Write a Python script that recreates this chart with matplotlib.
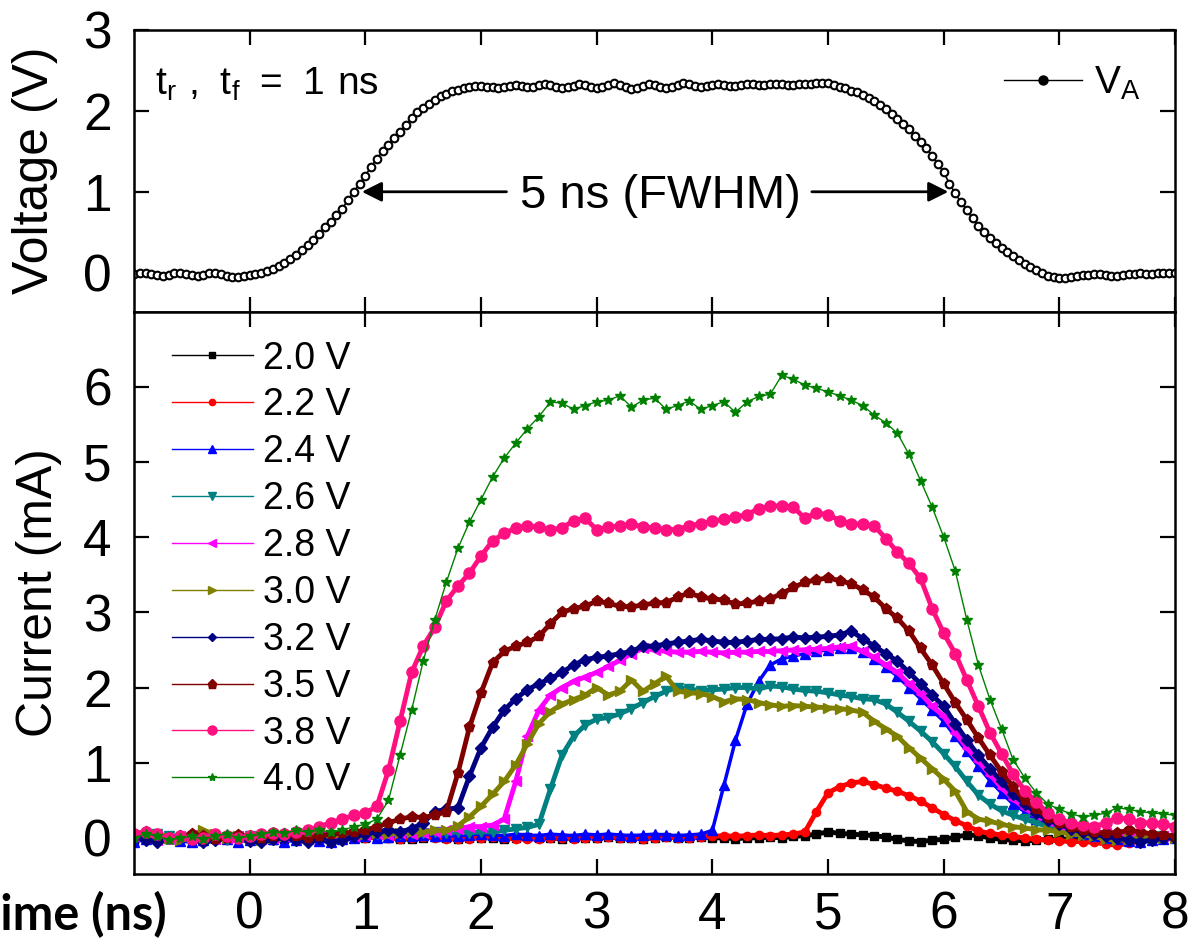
import numpy as np
import matplotlib
matplotlib.use("Agg")
import matplotlib.pyplot as plt
from matplotlib.lines import Line2D

plt.rcParams['font.family'] = ['Liberation Sans', 'DejaVu Sans']
plt.rcParams['mathtext.fontset'] = 'custom'
plt.rcParams['mathtext.rm'] = 'Liberation Sans'

# ---------------------------------------------------------
# data
# ---------------------------------------------------------
# top panel: applied pulse V_A, sampled every 0.05 ns from -1 to 8 ns
t_volt = np.round(np.arange(-1.0, 8.001, 0.05), 2)
v_a = [
    -0.02, -0.01, -0.01, -0.02, -0.03, -0.04, -0.03, -0.01, -0.01, -0.02,
    -0.03, -0.04, -0.03, -0.01, -0.01, -0.02, -0.04, -0.05, -0.05, -0.04,
    -0.03, -0.02, 0.0, 0.02, 0.05, 0.08, 0.12, 0.17, 0.22, 0.28,
    0.34, 0.41, 0.48, 0.56, 0.63, 0.71, 0.79, 0.9, 1.0, 1.1,
    1.2, 1.31, 1.41, 1.5, 1.58, 1.66, 1.74, 1.83, 1.91, 1.98,
    2.04, 2.09, 2.14, 2.18, 2.21, 2.24, 2.26, 2.28, 2.3, 2.31,
    2.31, 2.3, 2.29, 2.28, 2.29, 2.31, 2.32, 2.31, 2.29, 2.3,
    2.32, 2.33, 2.32, 2.3, 2.28, 2.29, 2.31, 2.33, 2.32, 2.3,
    2.28, 2.29, 2.32, 2.34, 2.32, 2.29, 2.27, 2.28, 2.31, 2.33,
    2.32, 2.3, 2.28, 2.29, 2.32, 2.34, 2.33, 2.31, 2.3, 2.31,
    2.32, 2.33, 2.32, 2.31, 2.31, 2.32, 2.33, 2.33, 2.32, 2.32,
    2.33, 2.33, 2.33, 2.32, 2.32, 2.33, 2.33, 2.33, 2.34, 2.34,
    2.34, 2.32, 2.3, 2.28, 2.25, 2.23, 2.2, 2.16, 2.12, 2.07,
    2.02, 1.96, 1.9, 1.84, 1.77, 1.69, 1.62, 1.54, 1.44, 1.34,
    1.24, 1.1, 0.98, 0.87, 0.77, 0.67, 0.58, 0.5, 0.43, 0.37,
    0.31, 0.26, 0.21, 0.16, 0.11, 0.07, 0.03, -0.01, -0.04, -0.05,
    -0.06, -0.06, -0.05, -0.04, -0.03, -0.03, -0.02, -0.02, -0.03, -0.04,
    -0.04, -0.03, -0.02, -0.02, -0.01, -0.02, -0.02, -0.01, 0.0, 0.0,
    0.0,
]

# bottom panel: current for each amplitude, sampled every 0.1 ns
t_cur = np.round(np.arange(-1.0, 8.001, 0.1), 2)
amp_labels = ["2.0 V", "2.2 V", "2.4 V", "2.6 V", "2.8 V",
              "3.0 V", "3.2 V", "3.5 V", "3.8 V", "4.0 V"]

i_20 = [
    -0.03, -0.02, 0.0, 0.02, 0.0, -0.03, -0.04, -0.02, 0.0, 0.01,
    0.0, -0.02, -0.03, -0.01, 0.0, 0.01, 0.0, -0.02, -0.02, 0.0,
    0.0, 0.01, 0.0, -0.01, -0.02, 0.0, 0.01, 0.0, -0.01, 0.0,
    0.0, 0.0, -0.01, 0.0, 0.01, 0.0, 0.0, -0.01, 0.0, 0.0,
    0.0, 0.01, 0.0, 0.0, -0.01, 0.0, 0.01, 0.0, 0.0, 0.01,
    0.0, 0.0, -0.01, 0.0, 0.0, 0.01, 0.0, 0.02, 0.03, 0.05,
    0.08, 0.06, 0.05, 0.04, 0.03, 0.01, -0.02, -0.04, -0.05, -0.03,
    -0.02, 0.01, 0.04, 0.03, 0.0, -0.02, -0.03, -0.04, -0.03, -0.02,
    -0.02, -0.01, 0.0, 0.01, 0.0, -0.02, -0.03, -0.02, -0.01, 0.0,
    0.0,
]
i_22 = [
    0.02, 0.04, 0.01, -0.02, -0.01, 0.02, 0.0, -0.03, -0.01, 0.01,
    0.0, -0.01, 0.01, 0.02, 0.0, -0.01, 0.0, 0.02, 0.01, 0.0,
    0.0, 0.01, 0.0, -0.01, 0.0, 0.01, 0.0, -0.01, -0.02, -0.01,
    0.0, 0.01, 0.0, -0.01, -0.02, -0.01, 0.0, 0.0, -0.01, 0.0,
    0.0, 0.01, 0.0, 0.0, -0.01, 0.0, 0.01, 0.0, 0.0, 0.01,
    0.02, 0.03, 0.02, 0.03, 0.04, 0.03, 0.04, 0.05, 0.08, 0.35,
    0.6, 0.68, 0.73, 0.75, 0.71, 0.66, 0.62, 0.56, 0.49, 0.4,
    0.31, 0.23, 0.16, 0.09, 0.06, 0.04, 0.02, 0.0, -0.02, -0.03,
    -0.04, -0.05, -0.05, -0.06, -0.08, -0.1, -0.07, -0.04, -0.03, -0.02,
    0.0,
]
i_24 = [
    -0.05, -0.02, 0.03, 0.0, -0.04, -0.06, -0.03, 0.01, -0.02, -0.05,
    -0.03, 0.0, -0.02, -0.05, -0.03, 0.0, -0.04, -0.06, -0.02, 0.0,
    0.02, 0.0, 0.01, 0.03, 0.02, 0.04, 0.03, 0.02, 0.03, 0.04,
    0.05, 0.04, 0.03, 0.05, 0.04, 0.03, 0.05, 0.04, 0.03, 0.05,
    0.04, 0.05, 0.04, 0.03, 0.04, 0.05, 0.04, 0.03, 0.04, 0.05,
    0.1, 0.7, 1.3, 1.78, 2.08, 2.3, 2.38, 2.42, 2.45, 2.48,
    2.5, 2.52, 2.53, 2.47, 2.38, 2.27, 2.15, 2.0, 1.85, 1.7,
    1.55, 1.35, 1.15, 0.95, 0.76, 0.6, 0.45, 0.35, 0.25, 0.18,
    0.12, 0.08, 0.05, 0.03, 0.0, -0.02, -0.04, -0.05, -0.03, -0.02,
    0.0,
]
i_26 = [
    0.0, 0.03, 0.05, 0.02, -0.02, 0.0, 0.03, 0.0, -0.03, -0.01,
    0.02, 0.0, -0.02, 0.01, 0.03, 0.01, 0.0, 0.02, 0.03, 0.05,
    0.04, 0.05, 0.06, 0.05, 0.07, 0.06, 0.08, 0.07, 0.08, 0.07,
    0.08, 0.08, 0.1, 0.12, 0.14, 0.18, 0.65, 1.1, 1.35, 1.5,
    1.58, 1.6, 1.65, 1.72, 1.8, 1.88, 1.95, 2.0, 1.98, 1.96,
    1.97, 1.98, 2.0, 2.0, 1.98, 2.02, 2.01, 1.98, 1.96, 1.95,
    1.93, 1.9, 1.88, 1.85, 1.84, 1.78, 1.67, 1.55, 1.42, 1.28,
    1.12, 0.95, 0.75, 0.57, 0.45, 0.36, 0.3, 0.25, 0.2, 0.15,
    0.1, 0.07, 0.04, 0.02, 0.0, 0.0, -0.02, 0.0, 0.0, 0.02,
    0.0,
]
i_28 = [
    0.03, 0.0, -0.03, -0.01, 0.02, 0.04, 0.01, -0.02, 0.0, 0.03,
    0.01, -0.02, 0.0, 0.02, 0.0, -0.01, 0.02, 0.03, 0.01, 0.03,
    0.04, 0.05, 0.04, 0.06, 0.05, 0.07, 0.08, 0.1, 0.12, 0.15,
    0.15, 0.17, 0.25, 0.75, 1.35, 1.7, 1.9, 2.0, 2.08, 2.14,
    2.2, 2.28, 2.36, 2.45, 2.52, 2.5, 2.48, 2.47, 2.47, 2.48,
    2.47, 2.46, 2.47, 2.47, 2.48, 2.48, 2.49, 2.5, 2.5, 2.51,
    2.52, 2.54, 2.55, 2.48, 2.4, 2.3, 2.2, 2.05, 1.92, 1.75,
    1.62, 1.4, 1.2, 1.02, 0.84, 0.67, 0.52, 0.4, 0.3, 0.22,
    0.16, 0.12, 0.1, 0.08, 0.06, 0.05, 0.05, 0.04, 0.03, 0.03,
    0.02,
]
i_30 = [
    -0.02, 0.02, 0.04, 0.0, -0.03, 0.0, 0.1, 0.05, 0.0, 0.02,
    0.0, -0.03, 0.0, 0.03, 0.02, 0.0, 0.02, 0.04, 0.03, 0.05,
    0.05, 0.06, 0.05, 0.07, 0.08, 0.08, 0.1, 0.1, 0.16, 0.28,
    0.42, 0.58, 0.75, 0.97, 1.25, 1.52, 1.68, 1.78, 1.84, 1.9,
    2.0, 1.9, 1.95, 2.1, 1.95, 2.05, 2.15, 1.95, 1.93, 1.92,
    1.88, 1.81, 1.85, 1.84, 1.8, 1.77, 1.75, 1.76, 1.75, 1.74,
    1.73, 1.72, 1.7, 1.67, 1.55, 1.45, 1.35, 1.2, 1.06, 0.92,
    0.78, 0.62, 0.35, 0.25, 0.22, 0.18, 0.15, 0.13, 0.11, 0.1,
    0.08, 0.05, 0.04, 0.02, -0.02, -0.03, -0.02, 0.0, 0.0, 0.0,
    0.0,
]
i_32 = [
    0.02, -0.03, -0.05, 0.0, 0.03, -0.02, -0.06, -0.03, 0.02, 0.0,
    -0.04, -0.06, -0.02, 0.01, -0.03, -0.05, 0.0, -0.06, -0.03, 0.02,
    0.05, 0.08, 0.1, 0.08, 0.12, 0.2, 0.35, 0.38, 0.4, 0.82,
    1.2, 1.47, 1.7, 1.85, 1.97, 2.05, 2.12, 2.2, 2.3, 2.37,
    2.4, 2.42, 2.45, 2.48, 2.55, 2.55, 2.58, 2.6, 2.62, 2.64,
    2.62, 2.6, 2.6, 2.62, 2.64, 2.64, 2.65, 2.67, 2.66, 2.67,
    2.68, 2.7, 2.75, 2.65, 2.55, 2.45, 2.35, 2.2, 2.05, 1.9,
    1.75, 1.52, 1.3, 1.1, 0.92, 0.75, 0.58, 0.45, 0.33, 0.24,
    0.18, 0.12, 0.08, 0.05, 0.02, 0.0, -0.03, -0.05, -0.03, 0.0,
    0.0,
]
i_35 = [
    0.05, 0.08, 0.04, 0.0, 0.02, 0.05, 0.02, -0.02, 0.0, 0.04,
    0.02, 0.0, 0.03, 0.05, 0.02, 0.0, 0.03, 0.05, 0.06, 0.08,
    0.1, 0.15, 0.2, 0.25, 0.28, 0.27, 0.3, 0.35, 0.86, 1.47,
    1.93, 2.33, 2.48, 2.55, 2.6, 2.68, 2.85, 3.0, 3.05, 3.08,
    3.15, 3.12, 3.08, 3.07, 3.1, 3.12, 3.13, 3.2, 3.26, 3.2,
    3.18, 3.16, 3.11, 3.12, 3.15, 3.18, 3.25, 3.33, 3.4, 3.43,
    3.46, 3.42, 3.38, 3.3, 3.2, 3.05, 2.92, 2.75, 2.52, 2.3,
    2.05, 1.8, 1.57, 1.33, 1.1, 0.88, 0.68, 0.5, 0.38, 0.27,
    0.2, 0.14, 0.1, 0.08, 0.06, 0.07, 0.1, 0.08, 0.05, 0.04,
    0.02,
]
i_38 = [
    0.05, 0.08, 0.05, 0.0, 0.02, -0.02, 0.0, 0.05, 0.02, 0.0,
    0.03, 0.05, 0.07, 0.05, 0.08, 0.1, 0.15, 0.2, 0.25, 0.3,
    0.33, 0.42, 0.9, 1.55, 2.2, 2.55, 2.8, 3.15, 3.35, 3.52,
    3.75, 3.95, 4.05, 4.12, 4.15, 4.13, 4.1, 4.12, 4.22, 4.25,
    4.1, 4.13, 4.15, 4.17, 4.14, 4.12, 4.1, 4.1, 4.15, 4.18,
    4.21, 4.24, 4.27, 4.3, 4.38, 4.41, 4.42, 4.4, 4.25, 4.32,
    4.3, 4.22, 4.18, 4.17, 4.15, 3.98, 3.8, 3.65, 3.45, 3.05,
    2.72, 2.45, 2.1, 1.75, 1.4, 1.12, 0.85, 0.63, 0.48, 0.33,
    0.25, 0.2, 0.17, 0.15, 0.2, 0.27, 0.25, 0.2, 0.2, 0.18,
    0.15,
]
i_40 = [
    0.0, 0.05, 0.03, -0.03, 0.0, 0.02, -0.02, 0.03, 0.05, 0.0,
    0.02, 0.05, 0.08, 0.06, 0.1, 0.08, 0.1, 0.08, 0.1, 0.15,
    0.18, 0.25, 0.5, 1.1, 1.7, 2.35, 2.9, 3.4, 3.85, 4.2,
    4.5, 4.8, 5.05, 5.25, 5.44, 5.6, 5.8, 5.78, 5.7, 5.75,
    5.8, 5.82, 5.88, 5.73, 5.82, 5.85, 5.7, 5.75, 5.81, 5.7,
    5.75, 5.8, 5.66, 5.8, 5.87, 5.9, 6.15, 6.1, 6.02, 5.98,
    5.93, 5.88, 5.82, 5.75, 5.62, 5.52, 5.38, 5.1, 4.75, 4.4,
    4.0, 3.55, 2.9, 2.3, 1.84, 1.45, 1.04, 0.8, 0.6, 0.45,
    0.38, 0.32, 0.28, 0.3, 0.33, 0.4, 0.38, 0.35, 0.33, 0.32,
    0.3,
]
currents = [i_20, i_22, i_24, i_26, i_28, i_30, i_32, i_35, i_38, i_40]

colors = ["#000000", "#ff0000", "#0000ff", "#008080", "#ff00ff",
          "#808000", "#000080", "#800000", "#ff1080", "#008000"]
markers = ["s", "o", "^", "v", "<", ">", "D", "p", "o", "*"]
msizes = [6, 6, 7, 7, 7, 7, 6, 8, 8, 7.5]
lwidths = [3.5, 3.5, 2.5, 3.5, 3.5, 3.5, 3.5, 3.5, 3.5, 1.0]

# ---------------------------------------------------------
# figure
# ---------------------------------------------------------
fig = plt.figure(figsize=(11.88, 9.42), dpi=100)
ax1 = fig.add_axes([0.1128, 0.6693, 0.8763, 0.2989])
ax2 = fig.add_axes([0.1128, 0.0722, 0.8763, 0.5971], sharex=ax1)

# top: voltage pulse
ax1.plot(t_volt, v_a, color="k", lw=1.2, marker="o", ms=5.5,
         mfc="white", mec="k", mew=1.5, label=r"$\mathregular{V_A}$")
ax1.set_ylim(-0.48, 3.0)
ax1.set_yticks([0, 1, 2, 3])
ax1.set_ylabel("Voltage (V)", fontsize=36)
ax1.yaxis.set_label_coords(-0.073, 0.5)

ax1.text(-0.82, 2.2, r"$\mathregular{t_r\ ,\ t_f\ =\ 1\ ns}$",
         fontsize=28, ha="left", va="baseline")
ax1.text(3.55, 0.8, "5 ns (FWHM)", fontsize=34, ha="center", va="baseline")
ax1.annotate("", xy=(0.97, 1.0), xytext=(2.22, 1.0),
             arrowprops=dict(arrowstyle="-|>", color="k", lw=2,
                             mutation_scale=30, shrinkA=0, shrinkB=0))
ax1.annotate("", xy=(6.04, 1.0), xytext=(4.86, 1.0),
             arrowprops=dict(arrowstyle="-|>", color="k", lw=2,
                             mutation_scale=30, shrinkA=0, shrinkB=0))
va_leg = ax1.legend(loc="upper right", frameon=False, fontsize=28,
                    handlelength=2.0, handletextpad=0.3, borderaxespad=0.5)
for h in va_leg.legend_handles:
    h.set_markerfacecolor("k")
    h.set_markersize(6)
    h.set_linewidth(1.0)

# bottom: currents
handles = []
for vals, lab, c, m, ms, lw in zip(currents, amp_labels, colors,
                                   markers, msizes, lwidths):
    ax2.plot(t_cur, vals, color=c, lw=lw, marker=m, ms=ms, mec=c, mfc=c)
    handles.append(Line2D([], [], color=c, lw=1.0, marker=m, ms=ms - 1.5,
                          mec=c, mfc=c, label=lab))

ax2.set_ylim(-0.48, 7.0)
ax2.set_yticks(range(0, 7))
ax2.set_xlim(-1, 8)
ax2.set_xticks(range(0, 9))
ax2.set_ylabel("Current (mA)", fontsize=36)
ax2.yaxis.set_label_coords(-0.069, 0.5)
ax2.legend(handles=handles, loc="upper left", bbox_to_anchor=(0.022, 0.975),
           frameon=False, fontsize=27, handlelength=2.15, handletextpad=0.27,
           labelspacing=0.29, borderaxespad=0.0)

for ax in (ax1, ax2):
    ax.tick_params(direction="in", length=11, width=1.6, top=True,
                   right=True, labelsize=37)
    ax.tick_params(axis="y", pad=16)
    ax.tick_params(axis="x", pad=12)
    for sp in ax.spines.values():
        sp.set_linewidth(1.8)
ax1.tick_params(labelbottom=False)

fig.text(-0.024, 0.013, "Time (ns)", fontsize=35, fontweight="bold",
         family=["Lato", "DejaVu Sans"], ha="left", va="baseline")

fig.savefig("out.png", dpi=100)
plt.close(fig)
